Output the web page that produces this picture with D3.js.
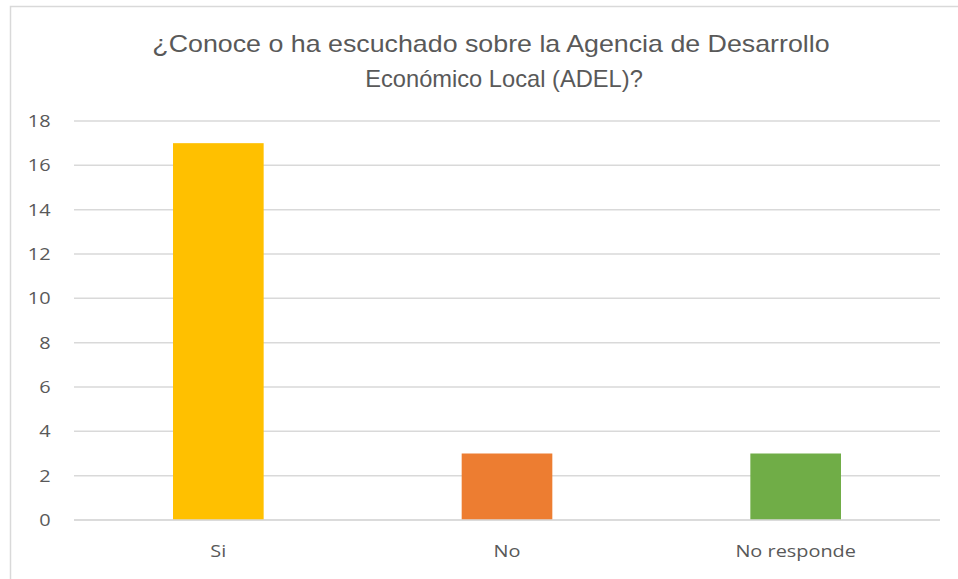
<!DOCTYPE html>
<html>
<head>
<meta charset="utf-8">
<script src="https://cdn.jsdelivr.net/npm/d3@7/dist/d3.min.js"></script>
<style>
  body { margin: 0; background: #fff; }
  svg { display: block; }
</style>
</head>
<body>
<svg id="chart" width="958" height="579"></svg>
<script>
// data
const categories = ['Si', 'No', 'No responde'];
const values = [17, 3, 3];
const colors = ['#FFC000', '#ED7D31', '#70AD47'];
const yTicks = [0, 2, 4, 6, 8, 10, 12, 14, 16, 18];
const titleLines = ['¿Conoce o ha escuchado sobre la Agencia de Desarrollo', 'Económico Local (ADEL)?'];

// the screenshot is a bit stretched sideways, text follows that
const stretch = 1.17;

let svg = d3.select('#chart');

// chart frame, cut off at right and bottom like the screenshot
svg.append('rect')
    .attr('x', 10.5).attr('y', 6.5)
    .attr('width', 1000).attr('height', 1000)
    .attr('fill', '#fff')
    .attr('stroke', '#d9d9d9')
    .attr('stroke-width', 1.5);

let plot = {left: 74, right: 940, top: 121, bottom: 520};

let x = d3.scaleBand()
    .domain(categories)
    .range([plot.left, plot.right])
    .paddingInner(0.686)
    .paddingOuter(0.343);

let y = d3.scaleLinear()
    .domain([0, 18])
    .range([plot.bottom, plot.top]);

// gridlines
svg.append('g')
    .selectAll('line')
    .data(yTicks)
    .join('line')
    .attr('x1', plot.left).attr('x2', plot.right)
    .attr('y1', d => y(d)).attr('y2', d => y(d))
    .attr('stroke', '#d9d9d9')
    .attr('stroke-width', 1.5);

// y axis labels
let yAxis = d3.axisLeft(y).tickValues(yTicks).tickSize(0).tickPadding(20);
let gy = svg.append('g')
    .attr('transform', `translate(${plot.left},0)`)
    .call(yAxis);
gy.select('.domain').remove();
gy.selectAll('text')
    .attr('fill', '#595959')
    .attr('transform', `scale(${stretch},1)`)
    .style('font-family', '"Open Sans", sans-serif')
    .style('font-size', '17px');

// bars
svg.append('g')
    .selectAll('rect')
    .data(values)
    .join('rect')
    .attr('x', (d, i) => x(categories[i]))
    .attr('y', d => y(d))
    .attr('width', x.bandwidth())
    .attr('height', d => y(0) - y(d))
    .attr('fill', (d, i) => colors[i]);

// baseline on top of bars
svg.append('line')
    .attr('x1', plot.left).attr('x2', plot.right)
    .attr('y1', y(0)).attr('y2', y(0))
    .attr('stroke', '#d9d9d9')
    .attr('stroke-width', 1.5);

// x axis labels
let xAxis = d3.axisBottom(x).tickSize(0).tickPadding(25);
let gx = svg.append('g')
    .attr('transform', `translate(0,${plot.bottom})`)
    .call(xAxis);
gx.select('.domain').remove();
gx.selectAll('text')
    .attr('fill', '#595959')
    .attr('transform', `scale(${stretch},1)`)
    .style('font-family', '"Open Sans", sans-serif')
    .style('font-size', '17px');

// title
svg.append('g')
    .selectAll('text')
    .data(titleLines)
    .join('text')
    .attr('transform', (d, i) => `translate(${i == 0 ? 491 : 504},${52 + i * 35}) scale(${i == 0 ? 1.165 : 1.03},1)`)
    .attr('text-anchor', 'middle')
    .attr('fill', '#595959')
    .style('font-family', '"Liberation Sans", Arial, sans-serif')
    .style('font-size', '23px')
    .text(d => d);
</script>
</body>
</html>
